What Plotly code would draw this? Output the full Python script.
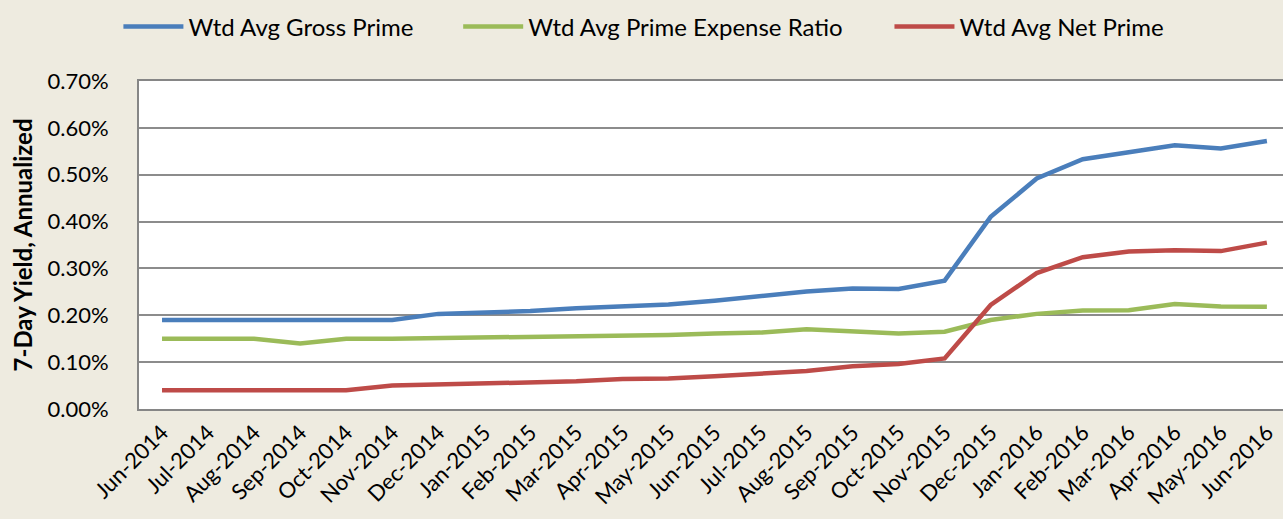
import plotly.graph_objects as go

months = ["Jun-2014", "Jul-2014", "Aug-2014", "Sep-2014", "Oct-2014", "Nov-2014", "Dec-2014",
          "Jan-2015", "Feb-2015", "Mar-2015", "Apr-2015", "May-2015", "Jun-2015", "Jul-2015",
          "Aug-2015", "Sep-2015", "Oct-2015", "Nov-2015", "Dec-2015", "Jan-2016", "Feb-2016",
          "Mar-2016", "Apr-2016", "May-2016", "Jun-2016"]

gross_prime = [0.0019, 0.0019, 0.0019, 0.0019, 0.0019, 0.0019, 0.00203,
               0.00206, 0.00209, 0.00215, 0.0022, 0.00223, 0.00231, 0.00241,
               0.00251, 0.00257, 0.00256, 0.00274, 0.0041, 0.00492, 0.00533,
               0.00548, 0.00563, 0.00556, 0.00572]

expense_ratio = [0.0015, 0.0015, 0.0015, 0.0014, 0.0015, 0.0015, 0.00151,
                 0.00152, 0.00154, 0.00155, 0.00156, 0.00158, 0.00161, 0.00163,
                 0.0017, 0.00165, 0.00161, 0.00165, 0.0019, 0.00203, 0.0021,
                 0.00211, 0.00224, 0.00219, 0.00218]

net_prime = [0.0004, 0.0004, 0.0004, 0.0004, 0.0004, 0.0005, 0.00052,
             0.00054, 0.00056, 0.00059, 0.00064, 0.00065, 0.0007, 0.00076,
             0.00081, 0.00091, 0.00096, 0.00108, 0.00222, 0.0029, 0.00324,
             0.00336, 0.00339, 0.00337, 0.00355]

y_ticks = [0, 0.001, 0.002, 0.003, 0.004, 0.005, 0.006, 0.007]

series = [
    ("Wtd Avg Gross Prime", gross_prime, "#4A7EBB", "legend"),
    ("Wtd Avg Prime Expense Ratio", expense_ratio, "#9BBB59", "legend2"),
    ("Wtd Avg Net Prime", net_prime, "#BE4B48", "legend3"),
]

BG = "#EEEBE0"
FONT = "Lato"

fig = go.Figure()
for name, vals, color, leg in series:
    fig.add_trace(go.Scatter(
        x=months, y=vals, name=name, mode="lines",
        line=dict(color=color, width=4.5),
        legend=leg,
    ))

legend_common = dict(orientation="h", yanchor="middle", y=1.165, xanchor="left",
                     bgcolor="rgba(0,0,0,0)", font=dict(family=FONT, size=24, color="#000"),
                     itemwidth=60, tracegroupgap=0)

fig.update_layout(
    width=1283, height=519,
    paper_bgcolor=BG, plot_bgcolor="white",
    margin=dict(l=139, r=0, t=81, b=110),
    font=dict(family=FONT, size=20, color="#000"),
    showlegend=True,
    legend=dict(legend_common, x=-0.018),
    legend2=dict(legend_common, x=0.279),
    legend3=dict(legend_common, x=0.656),
    xaxis=dict(
        type="category", range=[-0.5, 24.35], tickangle=-45,
        showgrid=False, showline=True, linecolor="#868686", linewidth=2, mirror=True,
        ticks="", tickfont=dict(family=FONT, size=22),
    ),
    yaxis=dict(
        range=[0, 0.007], tickvals=y_ticks, tickformat=".2%",
        showgrid=True, gridcolor="#8C8C8C", gridwidth=1.5,
        showline=True, linecolor="#868686", linewidth=2, mirror=False,
        zeroline=False, ticks="", ticklabelstandoff=24,
        tickfont=dict(family=FONT, size=22),
        title=dict(text="<b>7-Day Yield, Annualized</b>", font=dict(family=FONT, size=24), standoff=8),
    ),
)

fig.write_html("out.html", config={"displayModeBar": False},
               post_script="document.body.style.margin='0';document.body.style.padding='0';document.body.style.overflow='hidden';")
